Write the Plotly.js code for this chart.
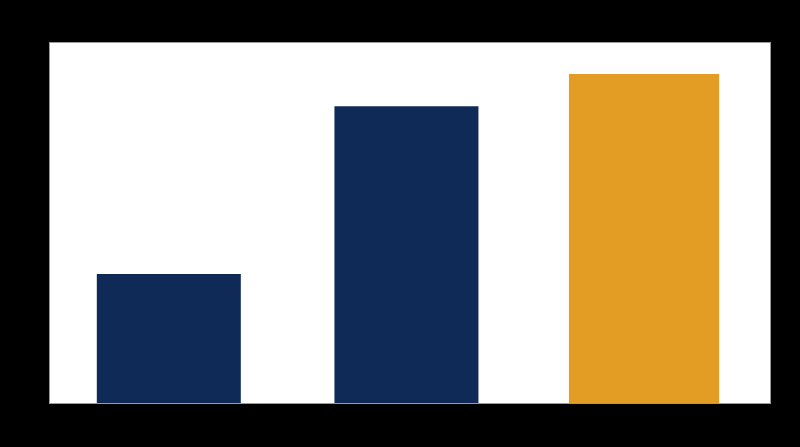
<!DOCTYPE html>
<html>
<head>
<meta charset="utf-8">
<script src="https://cdn.plot.ly/plotly-3.0.1.min.js"></script>
<style>
  html, body { margin: 0; padding: 0; background: #000; }
  #chart { width: 800px; height: 447px; }
</style>
</head>
<body>
<div id="chart"></div>
<script>
// categories and values (labels are black on black in the reference)
const categories = ['A', 'B', 'C'];
const values = [39.4, 90.7, 100.5];
const barColors = ['#0f2a56', '#0f2a56', '#e39d25'];
const barWidths = [0.606, 0.606, 0.632];

const trace = {
  type: 'bar',
  x: categories,
  y: values,
  width: barWidths,
  marker: { color: barColors, line: { width: 0 } },
  hoverinfo: 'x+y'
};

const layout = {
  width: 800,
  height: 447,
  margin: { l: 50, r: 30, t: 43, b: 44, pad: 0 },
  paper_bgcolor: '#000000',
  plot_bgcolor: '#ffffff',
  showlegend: false,
  font: { family: 'Liberation Sans, Arial, sans-serif', color: '#000000', size: 12 },
  xaxis: {
    type: 'category',
    range: [-0.5, 2.53],
    showgrid: false,
    zeroline: false,
    showline: true,
    mirror: true,
    linecolor: '#9a9a9a',
    linewidth: 1,
    ticks: '',
    tickfont: { color: '#000000' }
  },
  yaxis: {
    range: [0, 110],
    showgrid: false,
    zeroline: false,
    showline: true,
    mirror: true,
    linecolor: '#9a9a9a',
    linewidth: 1,
    ticks: '',
    tickfont: { color: '#000000' }
  }
};

Plotly.newPlot('chart', [trace], layout, { displayModeBar: false, staticPlot: true });
</script>
</body>
</html>
